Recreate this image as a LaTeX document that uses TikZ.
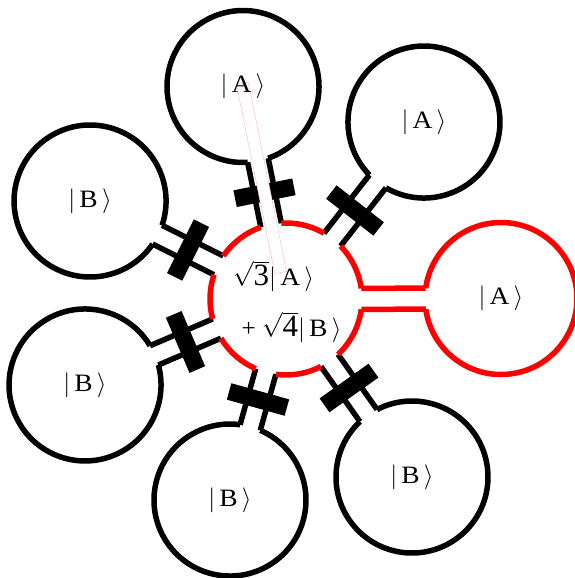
\documentclass[tikz,border=0pt]{standalone}
\usepackage{fontspec}
\setmainfont{Liberation Serif}
\usepackage{graphicx}
\newcommand{\kt}[1]{$|$\,\scalebox{1.1}[1]{#1}\,$\rangle$}
\newcommand{\bigdig}[1]{\hbox{\fontsize{31}{31}\selectfont #1}}
\begin{document}
\begin{tikzpicture}[x=1pt,y=1pt,
  ring/.style={line width=5.5pt},
  pipeline/.style={line width=5.5pt},
  barbox/.style={fill=black,draw=none},
  band/.style={draw=red!25,line width=0.5pt,fill=white},
  lbl/.style={font=\fontsize{25}{30}\selectfont,inner sep=0pt},
  clbl/.style={font=\fontsize{25}{30}\selectfont,inner sep=0pt}]
\useasboundingbox (0,0) rectangle (575,578);
\clip (0,0) rectangle (575,578);
\coordinate (C0) at (286,279);
\def\R{76}\def\w{10.5}\def\ga{7.94}\def\s{75.27}
% connectors and outer circles
\foreach \th/\d/\col/\hasbar/\nm in {0.13/215.0/red/0/cR, 52.06/224.4/black/1/cUR, 101.44/216.8/black/1/cT, 153.43/219.1/black/1/cUL, 203.16/218.6/black/1/cLL, 254.43/208.7/black/1/cB, 305.29/218.1/black/1/cLR}{
  \begin{scope}[shift={(C0)},rotate=\th,\col]
    \draw[pipeline] (\s,\w) -- (\d-\s,\w);
    \draw[pipeline] (\s,-\w) -- (\d-\s,-\w);
    \draw[ring] (\d,0) ++(180+\ga:\R) arc[start angle=180+\ga,end angle=540-\ga,radius=\R];
    \ifnum\hasbar=1 \fill[barbox] (\d/2-8.5,-30) rectangle (\d/2+8.5,30); \fi
    \coordinate (\nm) at (\d,0);
  \end{scope}
}
% central circle
\foreach \a/\b in {8.07/44.12, 60.0/93.5, 109.38/145.49, 161.37/195.22, 211.1/246.49, 262.37/297.35, 313.23/352.19}{
  \draw[ring,red] (C0) ++(\a:\R) arc[start angle=\a,end angle=\b,radius=\R];
}
% faint band
\begin{scope}[shift={(C0)},rotate=101.44]
  \draw[band] (27,-6) rectangle (220,6);
\end{scope}
% labels
\node[lbl] (tR) at (cR) {\kt{A}};
\node[lbl] (tUR) at (cUR) {\kt{A}};
\node[lbl] (tT) at (cT) {\kt{A}};
\node[lbl] (tUL) at (cUL) {\kt{B}};
\node[lbl] (tLL) at (cLL) {\kt{B}};
\node[lbl] (tB) at (cB) {\kt{B}};
\node[lbl] (tLR) at (cLR) {\kt{B}};
\node[clbl] (l1) at (273.5,302) {$\sqrt{\bigdig{3}}$\kt{A}};
\node[clbl] (l2) at (291.5,251) {+ $\sqrt{\bigdig{4}}$\kt{B}};
\end{tikzpicture}
\end{document}
